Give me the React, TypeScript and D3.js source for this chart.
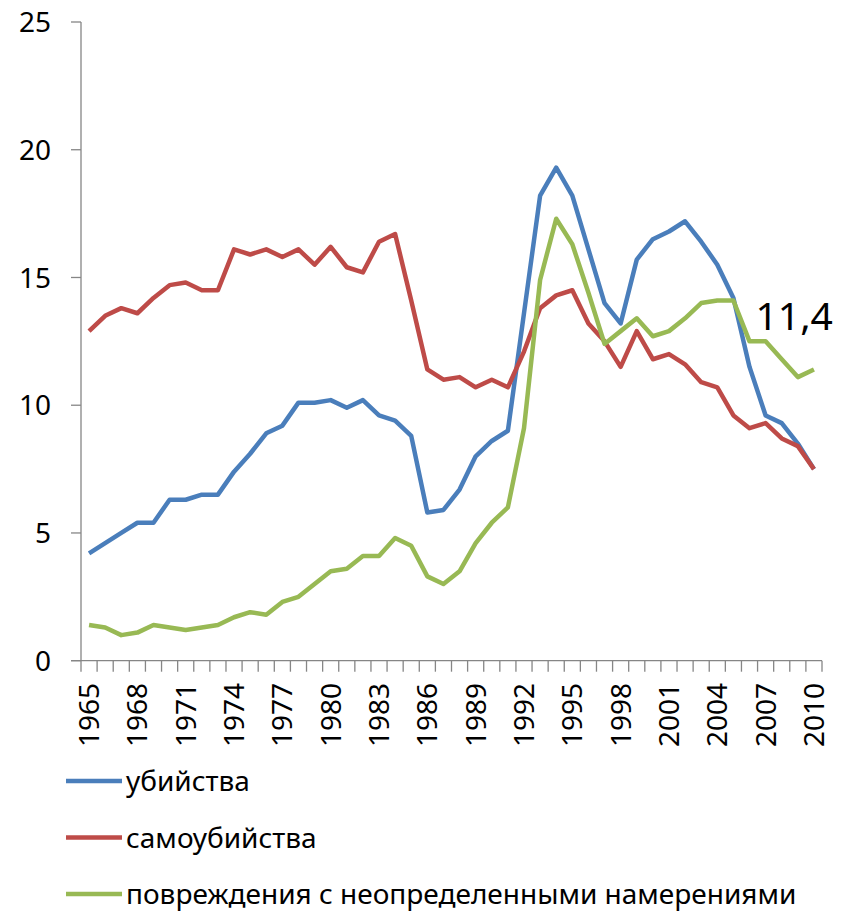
import * as d3 from 'd3'

// Death rates by external cause, 1965–2010 (per 100k), three series as lines.
const years = [
  1965, 1966, 1967, 1968, 1969, 1970, 1971, 1972, 1973, 1974, 1975, 1976, 1977, 1978, 1979, 1980,
  1981, 1982, 1983, 1984, 1985, 1986, 1987, 1988, 1989, 1990, 1991, 1992, 1993, 1994, 1995, 1996,
  1997, 1998, 1999, 2000, 2001, 2002, 2003, 2004, 2005, 2006, 2007, 2008, 2009, 2010,
]
const murders = [
  4.2, 4.6, 5.0, 5.4, 5.4, 6.3, 6.3, 6.5, 6.5, 7.4, 8.1, 8.9, 9.2, 10.1, 10.1, 10.2, 9.9, 10.2, 9.6,
  9.4, 8.8, 5.8, 5.9, 6.7, 8.0, 8.6, 9.0, 13.6, 18.2, 19.3, 18.2, 16.1, 14.0, 13.2, 15.7, 16.5, 16.8,
  17.2, 16.4, 15.5, 14.2, 11.5, 9.6, 9.3, 8.5, 7.5,
]
const suicides = [
  12.9, 13.5, 13.8, 13.6, 14.2, 14.7, 14.8, 14.5, 14.5, 16.1, 15.9, 16.1, 15.8, 16.1, 15.5, 16.2,
  15.4, 15.2, 16.4, 16.7, 14.1, 11.4, 11.0, 11.1, 10.7, 11.0, 10.7, 12.1, 13.8, 14.3, 14.5, 13.2,
  12.5, 11.5, 12.9, 11.8, 12.0, 11.6, 10.9, 10.7, 9.6, 9.1, 9.3, 8.7, 8.4, 7.5,
]
const undetermined = [
  1.4, 1.3, 1.0, 1.1, 1.4, 1.3, 1.2, 1.3, 1.4, 1.7, 1.9, 1.8, 2.3, 2.5, 3.0, 3.5, 3.6, 4.1, 4.1, 4.8,
  4.5, 3.3, 3.0, 3.5, 4.6, 5.4, 6.0, 9.1, 14.9, 17.3, 16.3, 14.4, 12.4, 12.9, 13.4, 12.7, 12.9, 13.4,
  14.0, 14.1, 14.1, 12.5, 12.5, 11.8, 11.1, 11.4,
]
const seriesNames = ['убийства', 'самоубийства', 'повреждения с неопределенными намерениями']
const seriesColors = ['#4a7ebb', '#be4b48', '#98b954']
const yTicks = [0, 5, 10, 15, 20, 25]
const xLabelYears = [1965, 1968, 1971, 1974, 1977, 1980, 1983, 1986, 1989, 1992, 1995, 1998, 2001, 2004, 2007, 2010]
const endLabel = '11,4'

const W = 852
const H = 913
const FONT = '"Noto Sans", sans-serif'

export default function App() {
  const x = d3.scaleBand<number>().domain(years).range([81, 822])
  const cx = (yr: number) => (x(yr) ?? 0) + x.bandwidth() / 2
  const y = d3.scaleLinear().domain([0, 25]).range([660.7, 22])
  const all = [murders, suicides, undetermined]
  const mk = d3
    .line<number>()
    .x((_, i) => cx(years[i]))
    .y((v) => y(v))
  const axis = '#868686'
  const bounds = years.map((yr) => x(yr) ?? 0).concat([822])

  return (
    <div style={{ position: 'absolute', left: 0, top: 0 }}>
      <svg width={W} height={H} style={{ display: 'block', fontFamily: FONT }}>
        <rect width={W} height={H} fill="#fff" />
        {/* y axis */}
        <line x1={81} x2={81} y1={y(25)} y2={y(0)} stroke={axis} strokeWidth={1.3} />
        {yTicks.map((t) => (
          <g key={t}>
            <line x1={71} x2={81} y1={y(t)} y2={y(t)} stroke={axis} strokeWidth={1.3} />
            <text x={51} y={y(t)} dy="0.36em" textAnchor="end" fontSize={28} fill="#000">
              {t}
            </text>
          </g>
        ))}
        {/* x axis: ticks between categories */}
        <line x1={71} x2={822} y1={y(0)} y2={y(0)} stroke={axis} strokeWidth={1.3} />
        {bounds.map((b, i) => (
          <line key={i} x1={b} x2={b} y1={y(0)} y2={y(0) + 11} stroke={axis} strokeWidth={1.3} />
        ))}
        {xLabelYears.map((yr) => (
          <text
            key={yr}
            transform={`translate(${cx(yr)},${683}) rotate(-90)`}
            dy="0.36em"
            textAnchor="end"
            fontSize={28}
            fill="#000"
          >
            {yr}
          </text>
        ))}
        {/* series */}
        {all.map((s, k) => (
          <path
            key={k}
            d={mk(s) ?? ''}
            fill="none"
            stroke={seriesColors[k]}
            strokeWidth={4.5}
            strokeLinejoin="round"
          />
        ))}
        <text
          x={cx(2010) + 19}
          y={y(undetermined[undetermined.length - 1]) - 39}
          textAnchor="end"
          fontSize={39}
          fill="#000"
        >
          {endLabel}
        </text>
        {/* legend */}
        {seriesNames.map((n, k) => {
          const ly = 781 + k * 56.5
          return (
            <g key={n}>
              <line x1={66} x2={122} y1={ly} y2={ly} stroke={seriesColors[k]} strokeWidth={4.5} />
              <text x={126} y={ly} dy="0.36em" fontSize={28} fill="#000">
                {n}
              </text>
            </g>
          )
        })}
      </svg>
    </div>
  )
}
